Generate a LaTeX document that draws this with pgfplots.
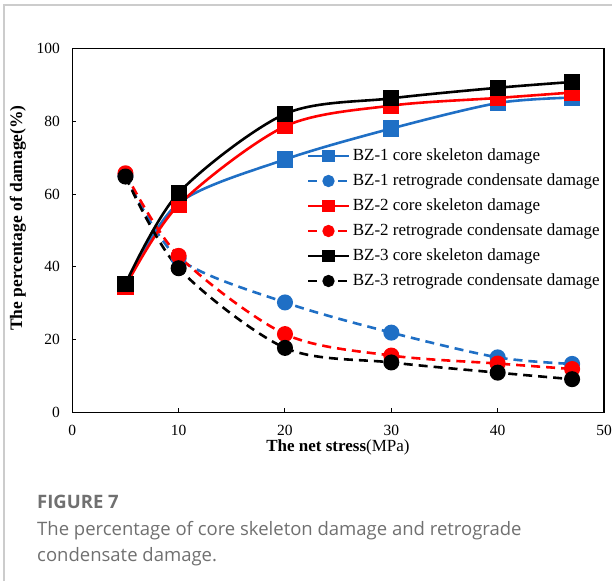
\documentclass[border=0pt]{standalone}
\usepackage{pgfplots}
\pgfplotsset{compat=1.18}
\usepackage{fontspec}
\setmainfont{Liberation Serif}
\newfontfamily\capfont{Open Sans}
\definecolor{bzblue}{HTML}{1F6FC5}
\definecolor{bzred}{HTML}{FF0000}
\definecolor{capgray}{HTML}{707070}

\pgfplotstableread{
x    c1    r1    c2    r2    c3    r3
5    35.0  65.0  34.6  65.7  35.3  64.8
10   57.5  42.3  57.0  43.0  60.3  39.6
20   69.5  30.2  78.6  21.5  82.0  17.7
30   78.0  21.9  84.3  15.6  86.3  13.7
40   85.0  15.1  86.4  13.4  89.2  10.9
47   86.5  13.3  87.9  11.9  90.8   9.1
}\damage

\begin{document}
\begin{tikzpicture}[x=1pt,y=1pt]
\path[use as bounding box] (0,0) rectangle (612,581);
\draw[black!20, line width=1.2pt] (4,0) -- (4,576) -- (612,576);
\begin{axis}[
  at={(72.3pt,168.7pt)}, anchor=south west,
  scale only axis, width=531.7pt, height=363.8pt,
  xmin=0, xmax=50, ymin=0, ymax=100,
  xtick={0,10,...,50}, ytick={0,20,...,100},
  tick pos=left, tick align=inside, major tick length=4pt,
  axis line style={line width=1.1pt},
  every tick/.style={black, line width=1pt},
  ticklabel style={font=\fontsize{15.5}{18}\selectfont},
  xticklabel style={yshift=-9pt},
  yticklabel style={xshift=-9pt},
  /pgf/number format/assume math mode=true,
  xlabel={\textbf{The net stress}(MPa)},
  xlabel style={font=\fontsize{17}{20}\selectfont, at={(axis description cs:0.4997,-0.0968)}, anchor=center},
  ylabel={\textbf{The percentage of damage(\%)}},
  ylabel style={font=\fontsize{17.5}{21}\selectfont, at={(axis description cs:-0.1021,0.534)}, anchor=center},
  legend cell align=left,
  legend style={draw=none, fill=none, inner sep=0pt,
    at={(rel axis cs:0.4414,0.727)}, anchor=north west,
    font=\fontsize{17}{20}\selectfont, row sep=9pt,
    nodes={inner xsep=3pt, inner ysep=0pt, text height=12pt, text depth=4pt}},
  legend image code/.code={
    \draw[#1, mark repeat=2, mark phase=2, mark size=4.8pt] plot coordinates {(0pt,0pt) (20pt,0pt) (40pt,0pt)};
  },
  core/.style={line width=2.6pt, smooth, mark=square*, mark size=6.8pt, mark options={solid}},
  retro/.style={line width=2.6pt, smooth, dash pattern=on 9pt off 6pt, mark=*, mark size=6.7pt, mark options={solid}},
]
\addplot[core, color=bzblue] table[x=x, y=c1] {\damage};
\addlegendentry{BZ-1 core skeleton damage}
\addplot[retro, color=bzblue] table[x=x, y=r1] {\damage};
\addlegendentry{BZ-1 retrograde condensate damage}
\addplot[core, color=bzred] table[x=x, y=c2] {\damage};
\addlegendentry{BZ-2 core skeleton damage}
\addplot[retro, color=bzred] table[x=x, y=r2] {\damage};
\addlegendentry{BZ-2 retrograde condensate damage}
\addplot[core, color=black] table[x=x, y=c3] {\damage};
\addlegendentry{BZ-3 core skeleton damage}
\addplot[retro, color=black] table[x=x, y=r3] {\damage};
\addlegendentry{BZ-3 retrograde condensate damage}
\end{axis}
\node[anchor=base west, inner sep=0pt, text=capgray, font=\capfont\fontsize{18.5}{22}\selectfont\bfseries] at (37,73) {FIGURE 7};
\node[anchor=base west, inner sep=0pt, text=capgray, font=\capfont\fontsize{18.5}{22}\selectfont] at (37,46) {The percentage of core skeleton damage and retrograde};
\node[anchor=base west, inner sep=0pt, text=capgray, font=\capfont\fontsize{18.5}{22}\selectfont] at (37,20) {condensate damage.};
\end{tikzpicture}
\end{document}
